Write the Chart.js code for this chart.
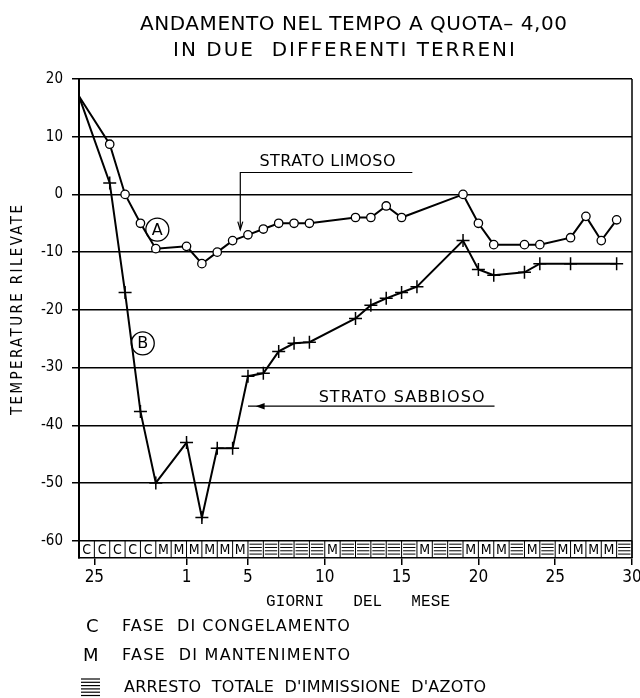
<!DOCTYPE html>
<html><head><meta charset="utf-8">
<script src="https://cdn.jsdelivr.net/npm/chart.js@4/dist/chart.umd.min.js"></script>
<style>html,body{margin:0;padding:0;background:#fff;}#wrap{width:640px;height:698px;}</style>
</head><body><div id="wrap"><canvas id="c" width="640" height="698"></canvas></div>
<script>
// categories: days on the x axis (from the 24th of the previous month to the 30th)
const days = ['24','25','26','27','28','29','30','1','2','3','4','5','6','7','8','9','10','11','12','13','14','15','16','17','18','19','20','21','22','23','24','25','26','27','28','29','30'];
const xTickLabels = ['25','1','5','10','15','20','25','30'];
const yTickValues = [-60,-50,-40,-30,-20,-10,0,10,20];
// A: strato limoso
const strataLimoso = [17,null,8.7,0,-5,-9.4,null,-9,-12,-10,-8,-7,-6,-5,-5,-5,null,null,-4,-4,-2,-4,null,null,null,0,-5,-8.7,null,-8.7,-8.7,null,-7.5,-3.8,-8,-4.4,null];
// B: strato sabbioso
const strataSabbioso = [17,null,2,-17,-37.6,-50,null,-43,-56,-44,-44,-31.5,-31,-27.2,-25.8,-25.6,null,null,-21.5,-19.2,-18,-17,-16,null,null,-8,-13,-14,null,-13.5,-12,null,-12,null,null,-12,null];
// phase of each day cell: C congelamento, M mantenimento, H arresto totale
const phases = ['C','C','C','C','C','M','M','M','M','M','M','H','H','H','H','H','M','H','H','H','H','H','M','H','H','M','M','M','H','M','H','M','M','M','M','H'];

const SANS = '"DejaVu Sans", sans-serif';
const COND = '"DejaVu Sans Condensed", "DejaVu Sans", sans-serif';
const MONO = '"Liberation Mono", "DejaVu Sans Mono", monospace';

const labeledIdx = [];
(function(){let p=0;days.forEach((d,i)=>{if(p<xTickLabels.length&&d===xTickLabels[p]){labeledIdx.push(i);p++;}});})();

function fitText(ctx, text, x, y, width, font, align){
  ctx.save();
  ctx.font = font;
  if ('letterSpacing' in ctx) ctx.letterSpacing = '0px';
  const w = ctx.measureText(text).width;
  const n = text.length;
  const ls = n>1 ? (width-w)/(n-1) : 0;
  if ('letterSpacing' in ctx) ctx.letterSpacing = ls.toFixed(2)+'px';
  ctx.textAlign='left'; ctx.textBaseline='middle'; ctx.fillStyle='#000';
  ctx.fillText(text, align==='center' ? x-width/2 : x, y);
  ctx.restore();
}

const deco = {
  id:'deco',
  beforeDatasetsDraw(chart){
    const ctx=chart.ctx, xs=chart.scales.x, ys=chart.scales.y, ca=chart.chartArea;
    const top=ys.getPixelForValue(-60), bot=ca.bottom;
    ctx.save();
    ctx.strokeStyle='#000'; ctx.fillStyle='#000'; ctx.lineWidth=1;
    phases.forEach((p,j)=>{
      const x0=xs.getPixelForValue(j), x1=xs.getPixelForValue(j+1);
      ctx.beginPath(); ctx.moveTo(x1,top); ctx.lineTo(x1,bot); ctx.stroke();
      if(p==='H'){
        for(let i=0;i<4;i++){const yy=top+3.5+i*3.3;ctx.beginPath();ctx.moveTo(x0+1.5,yy);ctx.lineTo(x1-1.5,yy);ctx.stroke();}
      } else {
        ctx.font='14px '+COND; ctx.textAlign='center'; ctx.textBaseline='middle';
        ctx.fillText(p,(x0+x1)/2,(top+bot)/2+1);
      }
    });
    // right border
    ctx.lineWidth=1.5;
    ctx.beginPath(); ctx.moveTo(ca.right,ca.top); ctx.lineTo(ca.right,ca.bottom); ctx.stroke();
    ctx.restore();
  },
  afterDraw(chart){
    const ctx=chart.ctx, xs=chart.scales.x, ys=chart.scales.y;
    const X=v=>xs.getPixelForValue(v), Y=v=>ys.getPixelForValue(v);
    ctx.save();
    // title
    fitText(ctx,'ANDAMENTO NEL TEMPO A QUOTA– 4,00',140,25,427,'20px '+SANS);
    fitText(ctx,'IN DUE  DIFFERENTI TERRENI',173,51,342,'20px '+SANS);
    // y title
    ctx.save(); ctx.translate(18,310); ctx.rotate(-Math.PI/2);
    fitText(ctx,'TEMPERATURE RILEVATE',-105,0,210,'15px '+COND);
    ctx.restore();
    // x title
    fitText(ctx,'GIORNI   DEL   MESE',266,602,184,'16px '+MONO);
    // legend
    ctx.fillStyle='#000'; ctx.textBaseline='middle'; ctx.textAlign='left';
    ctx.font='18px '+SANS; ctx.fillText('C',86,627);
    fitText(ctx,'FASE  DI CONGELAMENTO',122,627,228,'16px '+SANS);
    ctx.font='18px '+SANS; ctx.fillText('M',83,656);
    fitText(ctx,'FASE  DI MANTENIMENTO',122,656,228,'16px '+SANS);
    ctx.strokeStyle='#000'; ctx.lineWidth=1.2;
    for(let i=0;i<6;i++){const yy=679+i*3.3;ctx.beginPath();ctx.moveTo(81,yy);ctx.lineTo(100,yy);ctx.stroke();}
    fitText(ctx,"ARRESTO  TOTALE  D'IMMISSIONE  D'AZOTO",124,688,362,'16px '+SANS);
    // annotations
    ctx.strokeStyle='#000'; ctx.fillStyle='#000'; ctx.lineWidth=1.2;
    // STRATO LIMOSO
    fitText(ctx,'STRATO LIMOSO',X(11.75),Y(5.6),136,'16px '+SANS);
    ctx.beginPath(); ctx.moveTo(X(21.7),Y(3.8)); ctx.lineTo(X(10.5),Y(3.8)); ctx.lineTo(X(10.5),Y(-6.1)); ctx.stroke();
    ctx.beginPath(); ctx.moveTo(X(10.5)-2.5,Y(-6.1)-8); ctx.lineTo(X(10.5),Y(-6.1)); ctx.lineTo(X(10.5)+2.5,Y(-6.1)-8); ctx.stroke();
    // STRATO SABBIOSO
    fitText(ctx,'STRATO SABBIOSO',X(15.6),Y(-35.2),166,'16px '+SANS);
    ctx.beginPath(); ctx.moveTo(X(11.0),Y(-36.7)); ctx.lineTo(X(27.05),Y(-36.7)); ctx.stroke();
    ctx.beginPath(); ctx.moveTo(X(11.5),Y(-36.7)); ctx.lineTo(X(11.5)+9,Y(-36.7)-3.2); ctx.lineTo(X(11.5)+9,Y(-36.7)+3.2); ctx.closePath(); ctx.fill();
    // circled letters
    [['A',5.1,-6.1],['B',4.15,-25.8]].forEach(([t,k,v])=>{
      ctx.beginPath(); ctx.arc(X(k),Y(v),11.5,0,Math.PI*2); ctx.lineWidth=1.3; ctx.stroke();
      ctx.font='16px '+SANS; ctx.textAlign='center'; ctx.textBaseline='middle'; ctx.fillText(t,X(k),Y(v)+1);
    });
    ctx.restore();
  }
};

new Chart(document.getElementById('c'),{
  type:'line',
  data:{labels:days,datasets:[
    {label:'A',data:strataLimoso,spanGaps:true,tension:0,borderColor:'#000',borderWidth:2,
     pointStyle:'circle',pointRadius:c=>c.dataIndex===0?0:4.2,pointBackgroundColor:'#fff',pointBorderColor:'#000',pointBorderWidth:1.3},
    {label:'B',data:strataSabbioso,spanGaps:true,tension:0,borderColor:'#000',borderWidth:2,
     pointStyle:'cross',pointRadius:c=>c.dataIndex===0?0:6.5,pointBorderColor:'#000',pointBorderWidth:1.5}
  ]},
  options:{
    responsive:false,animation:false,devicePixelRatio:1,
    layout:{padding:{left:0,right:7,top:79,bottom:0}},
    plugins:{legend:{display:false},tooltip:{enabled:false},title:{display:false}},
    scales:{
      x:{type:'category',offset:false,
        grid:{drawOnChartArea:false,drawTicks:true,tickLength:7,lineWidth:1.5,color:c=>labeledIdx.includes(c.index)?'#000':'rgba(0,0,0,0)'},
        border:{display:true,color:'#000',width:1.5},
        ticks:{autoSkip:false,maxRotation:0,minRotation:0,padding:2,color:'#000',font:{family:COND,size:17},
          callback:(v,i)=>labeledIdx.includes(i)?days[i]:''},
        afterFit:s=>{s.height=140;s.paddingLeft=0;s.paddingRight=0;}
      },
      y:{min:-63,max:20,
        afterBuildTicks:s=>{s.ticks=yTickValues.map(v=>({value:v}));},
        grid:{color:'#000',lineWidth:1.5,tickLength:7,drawTicks:true},
        border:{display:true,color:'#000',width:2},
        ticks:{padding:9,color:'#000',font:{family:COND,size:15},callback:v=>String(v)},
        afterFit:s=>{s.width=79;s.paddingTop=0;s.paddingBottom=0;}
      }
    }
  },
  plugins:[deco]
});
</script></body></html>
